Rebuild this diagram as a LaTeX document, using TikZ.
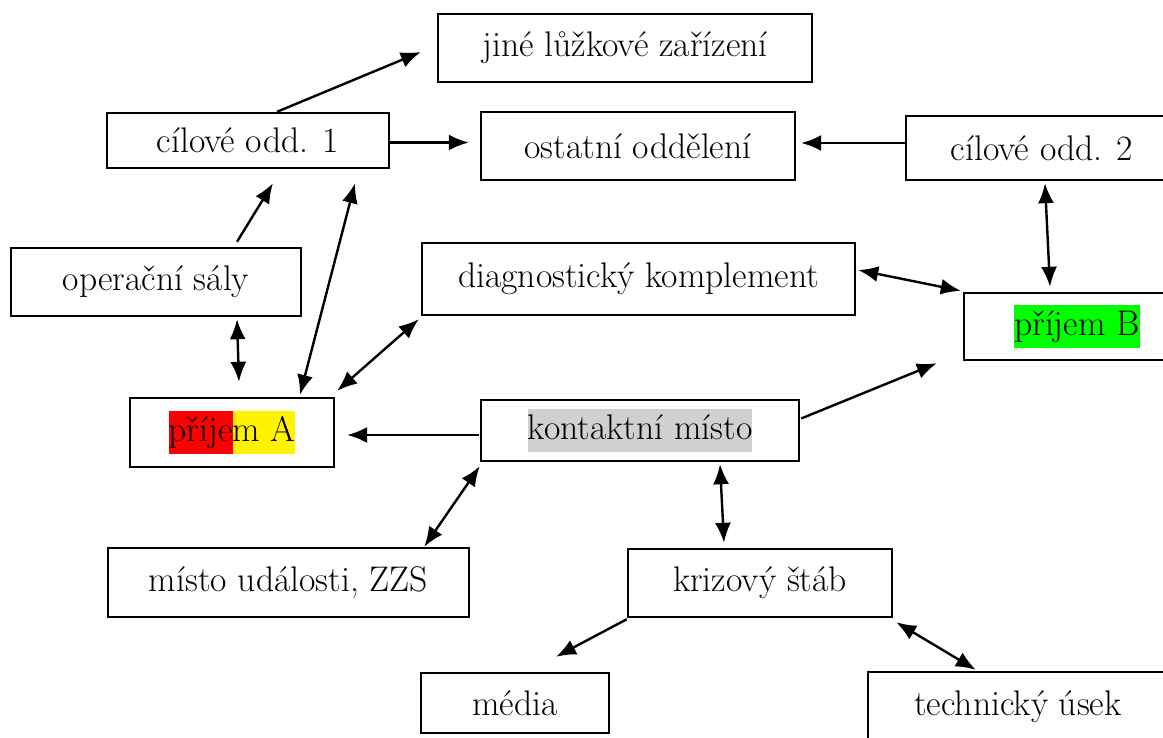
\documentclass[tikz,border=0pt]{standalone}
\usepackage{xcolor}
\usepackage{tikz}
\usetikzlibrary{calc, arrows.meta, positioning}

\definecolor{hlgray}{RGB}{208,208,208}
\definecolor{hlgreen}{RGB}{0,255,0}

\tikzset{
    box/.style={draw, line width=1.2pt, rectangle, inner sep=0pt,
        font=\fontsize{17.8}{21.5}\selectfont},
    arr/.style={line width=1.2pt, -{Latex[length=10pt, width=8pt]}},
    darr/.style={line width=1.2pt, {Latex[length=10pt, width=8pt]}-{Latex[length=10pt, width=8pt]}},
}

\begin{document}
\begin{tikzpicture}[x=0.5pt, y=-0.5pt]

    % =================================================================
    % 0. RAMEC OBRAZKU
    % =================================================================
    \useasboundingbox (0,0) rectangle (1163,738);
    \clip (0,0) rectangle (1163,738);
    \setlength{\fboxsep}{0pt}

    % =================================================================
    % 1. BLOKY (uzly)
    % =================================================================
    \node[box, minimum width=187pt, minimum height=34pt] (jine) at (625,48) {jiné lůžkové zařízení};
    \node[box, minimum width=141pt, minimum height=27.5pt] (cil1) at (248,140.5) {cílové odd. 1};
    \node[box, minimum width=157pt, minimum height=34pt] (ostatni) at (638,146) {ostatní oddělení};
    \node[box, minimum width=136pt, minimum height=32pt] (cil2) at (1042,148) {cílové odd. 2};

    \node[box, minimum width=145pt, minimum height=34pt] (opsal) at (156,282) {operační sály};
    \node[box, minimum width=216.5pt, minimum height=36pt] (diag) at (638.5,279) {diagnostický komplement};
    \node[box, minimum width=113pt, minimum height=33.5pt] (prijB) at (1077,326.5)
        {\colorbox{hlgreen}{\strut příjem B}};

    \node[box, minimum width=102pt, minimum height=34.5pt] (prijA) at (232,432.5)
        {\colorbox{red}{\strut příje}\colorbox{yellow}{\strut m A}};
    \node[box, minimum width=159pt, minimum height=30.5pt] (kontakt) at (640,430.5)
        {\colorbox{hlgray}{\strut kontaktní místo}};

    \node[box, minimum width=180.5pt, minimum height=34.5pt] (misto) at (288.5,582.5) {místo události, ZZS};
    \node[box, minimum width=132pt, minimum height=34pt] (krize) at (760,583) {krizový štáb};

    \node[box, minimum width=94pt, minimum height=30pt] (media) at (515,703) {média};
    \node[box, minimum width=150pt, minimum height=35pt] (tech) at (1018,707) {technický úsek};

    % =================================================================
    % 2. SPOJNICE (sipky)
    % =================================================================
    % horni cast
    \draw[arr] ($(cil1.north)+(29,0)$) -- ($(jine.west)+(-16,4)$);
    \draw[arr] ($(cil1.east)+(0,2)$) -- ($(ostatni.west)+(-11,-3.5)$);
    \draw[arr] ($(cil2.west)+(0,-5)$) -- ($(ostatni.east)+(5,-3)$);
    \draw[darr] ($(cil2.south)+(3,2)$) -- ($(prijB.north)+(-27,-5)$);

    % operacni saly a prijem A
    \draw[arr] ($(opsal.north)+(81,-5)$) -- ($(cil1.south)+(25,14)$);
    \draw[darr] ($(opsal.south)+(81,2)$) -- ($(prijA.north)+(7,-15)$);
    \draw[darr] ($(prijA.north)+(68,-2)$) -- ($(cil1.south)+(107,14)$);
    \draw[darr] ($(prijA.north east)+(2,-6)$) -- ($(diag.south west)+(-2,3)$);

    % diagnostika, prijem B a kontaktni misto
    \draw[darr] ($(diag.east)+(2,-9)$) -- ($(prijB.north west)+(-2,-1)$);
    \draw[arr] ($(kontakt.east)+(1,-12)$) -- ($(prijB.south west)+(-26,2)$);
    \draw[arr] ($(kontakt.west)+(-1,4.5)$) -- ($(prijA.east)+(12,2.5)$);

    % dolni cast
    \draw[darr] ($(misto.north east)+(-46,0)$) -- ($(kontakt.south west)+(0,4)$);
    \draw[darr] ($(kontakt.south)+(80,2)$) -- ($(krize.north)+(-36,-5)$);
    \draw[arr] ($(krize.south west)+(0,1)$) -- ($(media.north)+(41,-15)$);
    \draw[darr] ($(krize.south east)+(3,4)$) -- ($(tech.north west)+(109,-1)$);

\end{tikzpicture}
\end{document}
